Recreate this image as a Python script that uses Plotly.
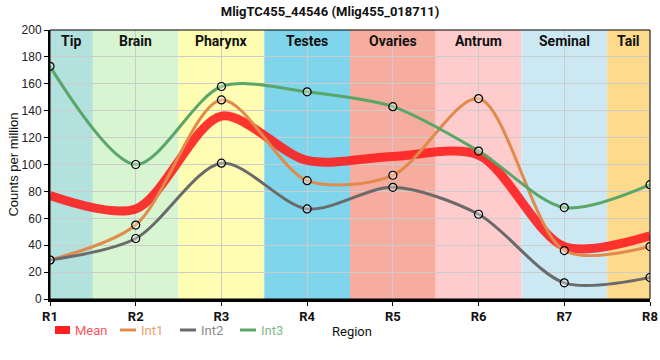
import plotly.graph_objects as go

categories = ["R1", "R2", "R3", "R4", "R5", "R6", "R7", "R8"]
int1 = [29, 55, 148, 88, 92, 149, 36, 39]
int2 = [29, 45, 101, 67, 83, 63, 12, 16]
int3 = [173, 100, 158, 154, 143, 110, 68, 85]
mean = [77, 67, 136, 103, 106, 107, 39, 47]

regions = ["Tip", "Brain", "Pharynx", "Testes", "Ovaries", "Antrum", "Seminal", "Tail"]
region_colors = ["#b3e1dd", "#d7f5d0", "#fffdb2", "#7fd5ec", "#f6ada0", "#ffccce", "#cce9f3", "#fdda8c"]

series_names = ["Mean", "Int1", "Int2", "Int3"]
series_colors = ["#ff2020", "#e08a4c", "#6a6a6a", "#58a668"]
legend_text_colors = ["#ff5560", "#e9a070", "#8a8a8a", "#7dba8a"]

FONT = "Roboto"
L, R, T, B = 50, 10, 30, 61
W, H = 660, 360
PW, PH = W - L - R, H - T - B


def px_x(p):
    return (p - L) / PW


def px_y(p):
    return (H - B - p) / PH


fig = go.Figure()

fig.add_trace(go.Scatter(x=categories, y=mean, mode="lines", name="Mean",
                         line=dict(color=series_colors[0], width=9, shape="spline", smoothing=0.85),
                         opacity=0.9, showlegend=False, hoverinfo="x+y"))
for name, vals, col in zip(series_names[1:], [int1, int2, int3], series_colors[1:]):
    fig.add_trace(go.Scatter(x=categories, y=vals, mode="lines+markers", name=name,
                             line=dict(color=col, width=3, shape="spline", smoothing=0.85),
                             marker=dict(size=8, color="rgba(255,255,255,0.35)",
                                         line=dict(color="black", width=1.2)),
                             showlegend=False))

shapes = []
annotations = []
n = len(categories)
for i, (reg, col) in enumerate(zip(regions, region_colors)):
    x0 = max(i - 0.5, 0)
    x1 = min(i + 0.5, n - 1)
    shapes.append(dict(type="rect", xref="x", yref="paper", x0=x0, x1=x1, y0=0, y1=1,
                       fillcolor=col, line=dict(width=0), layer="below"))
    annotations.append(dict(x=(x0 + x1) / 2, y=px_y(41), xref="x", yref="paper",
                            text="<b>" + reg + "</b>", showarrow=False,
                            font=dict(family=FONT, size=14, color="#111"),
                            xanchor="center", yanchor="middle"))

# frame
shapes.append(dict(type="rect", xref="paper", yref="paper", x0=0, x1=1, y0=0, y1=1,
                   line=dict(color="black", width=1), layer="above"))

# manual legend
sym_x = [55, 120, 180, 240]
text_x = [73, 139, 199, 259]
ly = 330
for k, name in enumerate(series_names):
    if k == 0:
        shapes.append(dict(type="rect", xref="paper", yref="paper",
                           x0=px_x(sym_x[k]), x1=px_x(sym_x[k] + 15),
                           y0=px_y(ly + 4), y1=px_y(ly - 4),
                           fillcolor=series_colors[k], line=dict(width=0), layer="above"))
    else:
        shapes.append(dict(type="line", xref="paper", yref="paper",
                           x0=px_x(sym_x[k]), x1=px_x(sym_x[k] + 16),
                           y0=px_y(ly), y1=px_y(ly),
                           line=dict(color=series_colors[k], width=3), layer="above"))
    annotations.append(dict(x=px_x(text_x[k]), y=px_y(ly), xref="paper", yref="paper",
                            text=name, showarrow=False, xanchor="left", yanchor="middle",
                            font=dict(family=FONT, size=13, color=legend_text_colors[k])))

# x axis title placed manually
annotations.append(dict(x=px_x(352), y=px_y(331), xref="paper", yref="paper", text="Region",
                        showarrow=False, xanchor="center", yanchor="middle",
                        font=dict(family=FONT, size=13, color="#111")))

fig.update_layout(
    width=W, height=H,
    margin=dict(l=L, r=R, t=T, b=B, pad=0),
    paper_bgcolor="white", plot_bgcolor="white",
    title=dict(text="<b>MligTC455_44546 (Mlig455_018711)</b>", x=0.5, xanchor="center",
               y=1 - 11 / H, yanchor="middle", font=dict(family=FONT, size=13, color="#111")),
    font=dict(family=FONT, size=12, color="#111"),
    shapes=shapes, annotations=annotations,
    showlegend=False,
    xaxis=dict(type="category", range=[0, n - 1], showgrid=True, gridcolor="#cccccc", gridwidth=1,
               showline=True, linecolor="black", linewidth=2.5, ticks="outside", ticklen=4,
               tickcolor="black", tickfont=dict(family=FONT, size=13, color="#111"),
               tickprefix="<b>", ticksuffix="</b>", automargin=False,
               zeroline=False),
    yaxis=dict(range=[0, 200], dtick=20, showgrid=True, gridcolor="#cccccc", gridwidth=1,
               showline=True, linecolor="black", linewidth=2, ticks="outside", ticklen=4,
               tickcolor="black", tickfont=dict(family="Liberation Sans", size=12, color="#222"),
               title=dict(text="Counts per million", font=dict(family="Liberation Sans", size=13, color="#111"),
                          standoff=0),
               automargin=False, zeroline=False),
)

fig.write_html("out.html", config={"displayModeBar": False},
               post_script="document.body.style.margin='0';document.body.style.padding='0';"
                           "document.body.style.overflow='hidden';")
